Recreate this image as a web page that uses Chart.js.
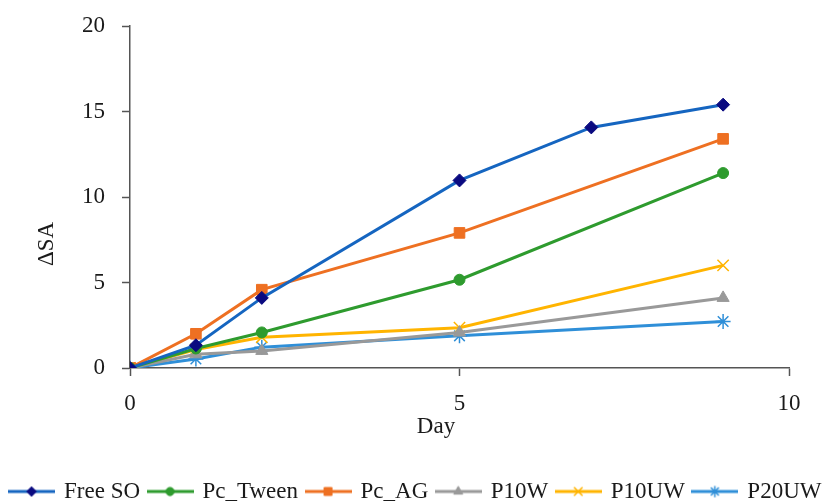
<!DOCTYPE html>
<html><head><meta charset="utf-8">
<script src="https://cdn.jsdelivr.net/npm/chart.js@4/dist/chart.umd.min.js"></script>
<style>html,body{margin:0;padding:0;background:#fff}#wrap{width:832px;height:501px}</style>
</head><body><div id="wrap"><canvas id="c" width="832" height="501"></canvas></div>
<script>
const days = [0, 1, 2, 5, 7, 9];
const freeSO   = [0, 1.33, 4.1, 10.97, 14.07, 15.4];
const pcTween  = [0, 1.14, 2.08, 5.16, null, 11.4];
const pcAG     = [0, 2.0, 4.58, 7.9, null, 13.4];
const p10W     = [0, 0.8, 1.0, 2.07, null, 4.1];
const p10UW    = [0, 1.08, 1.8, 2.36, null, 6.0];
const p20UW    = [0, 0.53, 1.22, 1.88, null, 2.72];
const xTicks = [0, 5, 10];
const yTicks = [0, 5, 10, 15, 20];
const xTitle = 'Day';
const yTitle = 'ΔSA';
const FONT = "'Liberation Serif', 'DejaVu Serif', serif";

function pts(vals){ return days.map((d,i)=>({x:d,y:vals[i]})).filter(p=>p.y!==null); }

const series = [
  {label:'Free SO', data:freeSO, line:'#1565C0', mk:'#0a0a80', style:'rectRot', r:6.5},
  {label:'Pc_Tween', data:pcTween, line:'#2E9B2E', mk:'#2E9B2E', style:'circle', r:5.5},
  {label:'Pc_AG', data:pcAG, line:'#EE7022', mk:'#EE7022', style:'rect', r:7.5},
  {label:'P10W', data:p10W, line:'#999999', mk:'#999999', style:'triangle', r:7},
  {label:'P10UW', data:p10UW, line:'#FFB400', mk:'#FFB400', style:'crossRot', r:8},
  {label:'P20UW', data:p20UW, line:'#2F8FD8', mk:'#2F8FD8', style:'star', r:7.5},
];

function makeIcon(s){
  const cv = document.createElement('canvas');
  cv.width = 47; cv.height = 18;
  const g = cv.getContext('2d');
  g.strokeStyle = s.line; g.lineWidth = 3;
  g.beginPath(); g.moveTo(0,9); g.lineTo(47,9); g.stroke();
  g.fillStyle = s.mk; g.strokeStyle = s.mk;
  g.lineWidth = (s.style==='crossRot'||s.style==='star') ? 1.5 : 1;
  Chart.helpers.drawPoint(g, {pointStyle: s.style, radius: s.r*0.75, borderWidth: g.lineWidth, rotation:0}, 23.5, 9);
  return cv;
}

const datasets = series.map(s=>({
  label: s.label,
  data: pts(s.data),
  borderColor: s.line,
  backgroundColor: s.mk,
  pointBackgroundColor: s.mk,
  pointBorderColor: s.mk,
  pointBorderWidth: (s.style==='crossRot'||s.style==='star') ? 1.5 : 1,
  pointStyle: s.style,
  pointRadius: s.r,
  borderWidth: 3,
  tension: 0,
  spanGaps: true,
  fill: false
}));

const icons = series.map(makeIcon);
const LEGEND_SHIFT = 12;

const titlesPlugin = {
  id: 'axisTitles',
  afterLayout(chart){
    const lg = chart.legend; lg.top += LEGEND_SHIFT; lg.bottom += LEGEND_SHIFT;
  },
  afterDraw(chart){
    const ctx = chart.ctx;
    ctx.save();
    ctx.fillStyle = '#1a1a1a';
    ctx.font = "23px " + FONT;
    ctx.textAlign = 'center'; ctx.textBaseline = 'middle';
    ctx.fillText(xTitle, 436, 427);
    ctx.translate(47, 244); ctx.rotate(-Math.PI/2);
    ctx.fillText(yTitle, 0, 0);
    ctx.restore();
  }
};

new Chart(document.getElementById('c'), {
  type: 'line',
  data: { datasets },
  plugins: [titlesPlugin],
  options: {
    responsive: false,
    animation: false,
    devicePixelRatio: 1,
    layout: { padding: { left: 0, right: 0, top: 26, bottom: 0 } },
    plugins: {
      tooltip: { enabled: false },
      legend: {
        position: 'bottom',
        labels: {
          font: { family: FONT, size: 23 },
          color: '#1a1a1a',
          usePointStyle: true,
          pointStyleWidth: 42,
          boxHeight: 18,
          padding: 9,
          generateLabels: (chart)=> series.map((s,i)=>({
            text: s.label, pointStyle: icons[i], fillStyle: s.mk, strokeStyle: s.mk,
            lineWidth: 0, hidden: false, datasetIndex: i, fontColor: '#1a1a1a'
          }))
        }
      }
    },
    scales: {
      x: {
        type: 'linear', min: 0, max: 10,
        afterBuildTicks: (sc)=>{ sc.ticks = xTicks.map(v=>({value:v})); },
        grid: { display: true, drawOnChartArea: false, drawTicks: true, tickLength: 8, tickColor: '#555', tickWidth: 1.5 },
        border: { color: '#555', width: 1.5 },
        ticks: { font: { family: FONT, size: 23 }, color: '#1a1a1a', padding: 14 },
        title: { display: false },
        afterFit: (sc)=>{ sc.height = 91; }
      },
      y: {
        type: 'linear', min: 0, max: 20,
        afterBuildTicks: (sc)=>{ sc.ticks = yTicks.map(v=>({value:v})); },
        grid: { display: true, drawOnChartArea: false, drawTicks: true, tickLength: 8, tickColor: '#555', tickWidth: 1.5 },
        border: { color: '#555', width: 1.5 },
        ticks: { font: { family: FONT, size: 23, lineHeight: 0.6 }, color: '#1a1a1a', padding: 17 },
        title: { display: false },
        afterFit: (sc)=>{ sc.width = 130; }
      },
      yRight: {
        type: 'linear', position: 'right', display: true,
        grid: { display: false, drawTicks: false },
        border: { display: false },
        ticks: { display: false },
        afterFit: (sc)=>{ sc.width = 43; }
      }
    }
  }
});
</script>
</body></html>
